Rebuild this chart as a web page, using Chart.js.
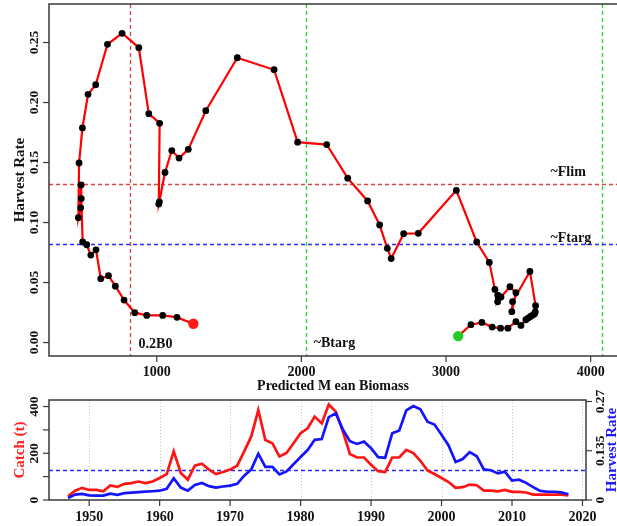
<!DOCTYPE html>
<html>
<head>
<meta charset="utf-8">
<title>Harvest rate vs biomass</title>
<script src="https://cdn.jsdelivr.net/npm/chart.js@4.4.1/dist/chart.umd.min.js"></script>
<style>
  html, body { margin: 0; padding: 0; background: #fff; overflow: hidden; }
  #wrap { position: relative; width: 617px; height: 526px; overflow: hidden; }
  #phase { position: absolute; left: 0; top: 0; width: 617px; height: 395px; }
  #series { position: absolute; left: 0; top: 380px; width: 617px; height: 146px; }
</style>
</head>
<body>
<div id="wrap">
  <canvas id="phase" width="617" height="395"></canvas>
  <canvas id="series" width="617" height="146"></canvas>
</div>
<script>
// ===============================
// Data
// ===============================
const years = [1947, 1948, 1949, 1950, 1951, 1952, 1953, 1954, 1955, 1956,
  1957, 1958, 1959, 1960, 1961, 1962, 1963, 1964, 1965, 1966,
  1967, 1968, 1969, 1970, 1971, 1972, 1973, 1974, 1975, 1976,
  1977, 1978, 1979, 1980, 1981, 1982, 1983, 1984, 1985, 1986,
  1987, 1988, 1989, 1990, 1991, 1992, 1993, 1994, 1995, 1996,
  1997, 1998, 1999, 2000, 2001, 2002, 2003, 2004, 2005, 2006,
  2007, 2008, 2009, 2010, 2011, 2012, 2013, 2014, 2015, 2016,
  2017, 2018];

const biomass = [3084, 3172, 3248, 3319, 3377, 3428, 3483, 3518, 3552, 3568,
  3584, 3600, 3612, 3617, 3619, 3580, 3460, 3455, 3483, 3442,
  3380, 3357, 3363, 3357, 3338, 3299, 3212, 3071, 2808, 2707,
  2621, 2594, 2541, 2458, 2320, 2175, 1974, 1811, 1557, 1339,
  1218, 1154, 1104, 1057, 1018, 1014, 1020, 945, 876, 760,
  659, 578, 525, 486, 463, 458, 474, 477, 478, 488,
  516, 544, 580, 613, 666, 714, 774, 848, 931, 1041,
  1140, 1253];

const harvestRate = [0.0054, 0.0149, 0.0168, 0.0129, 0.0120, 0.0120, 0.0174, 0.0143, 0.0190, 0.0204,
  0.0218, 0.0229, 0.0240, 0.0255, 0.0307, 0.0593, 0.0340, 0.0257, 0.0415, 0.0465,
  0.0380, 0.0340, 0.0370, 0.0396, 0.0443, 0.0668, 0.0838, 0.1268, 0.0910, 0.0907,
  0.0700, 0.0785, 0.0980, 0.1180, 0.1370, 0.1650, 0.1670, 0.2273, 0.2373, 0.1932,
  0.1610, 0.1537, 0.1600, 0.1418, 0.1173, 0.1154, 0.1827, 0.1907, 0.2457, 0.2577,
  0.2485, 0.2148, 0.2068, 0.1788, 0.1496, 0.1040, 0.1123, 0.1313, 0.1200, 0.0838,
  0.0815, 0.0729, 0.0773, 0.0532, 0.0557, 0.0470, 0.0354, 0.0249, 0.0226, 0.0226,
  0.0210, 0.0157];

const catchT = [16, 40, 52, 43, 43, 37, 62, 56, 69, 72,
  79, 72, 79, 94, 111, 208, 116, 87, 147, 155,
  130, 111, 120, 130, 147, 208, 272, 385, 257, 243,
  186, 201, 243, 286, 307, 357, 328, 409, 378, 293,
  197, 182, 182, 151, 123, 120, 182, 182, 215, 201,
  168, 126, 111, 94, 77, 52, 55, 66, 63, 40,
  40, 37, 43, 35, 35, 32, 23, 23, 23, 23,
  23, 20];

// reference points
const refBiomass = [812, 2030, 4075];          // 0.2B0, ~Btarg, B0
const refRate = [0.1318, 0.082];               // ~Flim, ~Ftarg

// tick labels
const biomassTicks = [1000, 2000, 3000, 4000];
const rateTicks = [0, 0.05, 0.10, 0.15, 0.20, 0.25];
const rateTickLabels = ["0.00", "0.05", "0.10", "0.15", "0.20", "0.25"];
const yearTicks = [1950, 1960, 1970, 1980, 1990, 2000, 2010, 2020];
const catchTicks = [0, 100, 200, 300, 400];
const catchTickLabels = ["0", "", "200", "", "400"];
const rateTicks2 = [0, 0.135, 0.27];
const rateTickLabels2 = ["0", "0.135", "0.27"];

// ===============================
// Helpers
// ===============================
const serif = '"Liberation Serif", "Times New Roman", serif';
const font = size => "bold " + size + "px " + serif;
const axisColor = "#3a3a3a";

function vText(ctx, text, x, y, color) {
  ctx.save();
  ctx.translate(x, y);
  ctx.rotate(-Math.PI / 2);
  ctx.fillStyle = color;
  ctx.textAlign = "center";
  ctx.textBaseline = "middle";
  ctx.fillText(text, 0, 0);
  ctx.restore();
}

function tickLine(ctx, x1, y1, x2, y2) {
  ctx.beginPath();
  ctx.moveTo(x1, y1);
  ctx.lineTo(x2, y2);
  ctx.stroke();
}

// ===============================
// Top: harvest rate vs biomass
// ===============================
const last = biomass.length - 1;

const phaseAxes = {
  id: "phaseAxes",
  beforeDatasetsDraw(chart) {
    const { ctx, chartArea: a, scales: { x, y } } = chart;
    ctx.save();
    ctx.lineWidth = 1.3;
    ctx.setLineDash([4, 3]);
    const vCols = ["#cc4a4a", "#2ecc2e", "#2ecc2e"];
    refBiomass.forEach((b, i) => {
      ctx.strokeStyle = vCols[i];
      const px = Math.round(x.getPixelForValue(b)) + 0.5;
      tickLine(ctx, px, a.top, px, a.bottom);
    });
    const hCols = ["#dd4545", "#2a2aff"];
    refRate.forEach((r, i) => {
      ctx.strokeStyle = hCols[i];
      const py = Math.round(y.getPixelForValue(r)) + 0.5;
      tickLine(ctx, a.left, py, a.right, py);
    });
    ctx.restore();
  },
  afterDraw(chart) {
    const { ctx, chartArea: a, scales: { x, y } } = chart;
    ctx.save();
    ctx.strokeStyle = axisColor;
    ctx.lineWidth = 1.5;
    // box: right side falls outside the picture
    ctx.beginPath();
    ctx.moveTo(a.right + 5, a.top);
    ctx.lineTo(a.left, a.top);
    ctx.lineTo(a.left, a.bottom);
    ctx.lineTo(a.right + 5, a.bottom);
    ctx.stroke();

    ctx.lineWidth = 1.2;
    ctx.font = font(14);
    ctx.fillStyle = "#111";
    ctx.textAlign = "center";
    ctx.textBaseline = "middle";
    biomassTicks.forEach(v => {
      const px = x.getPixelForValue(v);
      tickLine(ctx, px, a.bottom, px, a.bottom + 6);
      ctx.fillText(String(v), px, a.bottom + 16);
    });
    ctx.font = font(13.5);
    rateTicks.forEach((v, i) => {
      const py = y.getPixelForValue(v);
      tickLine(ctx, a.left - 6, py, a.left, py);
      vText(ctx, rateTickLabels[i], a.left - 14, py, "#111");
    });

    ctx.font = font(14);
    ctx.fillText("Predicted M ean Biomass", (a.left + a.right) / 2, a.bottom + 30);
    ctx.font = font(15);
    vText(ctx, "Harvest Rate", 20, (a.top + a.bottom) / 2, "#111");

    ctx.font = font(14);
    ctx.textAlign = "left";
    const y0 = y.getPixelForValue(0);
    ctx.fillText("0.2B0", x.getPixelForValue(refBiomass[0]) + 9, y0 + 1.5);
    ctx.fillText("~Btarg", x.getPixelForValue(refBiomass[1]) + 8, y0 + 0.5);
    const xLab = x.getPixelForValue(refBiomass[2]) - 51;
    ctx.fillText("~Flim", xLab, y.getPixelForValue(refRate[0]) - 12);
    ctx.fillText("~Ftarg", xLab, y.getPixelForValue(refRate[1]) - 6);
    ctx.restore();
  }
};

new Chart(document.getElementById("phase"), {
  type: "scatter",
  data: {
    datasets: [{
      data: biomass.map((b, i) => ({ x: b, y: harvestRate[i] })),
      showLine: true,
      borderColor: "#ff0000",
      borderWidth: 2.2,
      tension: 0,
      pointRadius: c => (c.dataIndex === 0 || c.dataIndex === last) ? 5.2 : 3.4,
      pointBackgroundColor: c => c.dataIndex === 0 ? "#22cc22" : (c.dataIndex === last ? "#ff1a1a" : "#000"),
      pointBorderWidth: 0
    }]
  },
  options: {
    responsive: false,
    animation: false,
    events: [],
    layout: { autoPadding: false, padding: { left: 49, top: 4, right: 0, bottom: 39 } },
    plugins: { legend: { display: false }, tooltip: { enabled: false } },
    scales: {
      x: { type: "linear", display: false, min: 255, max: 4182 },
      y: { type: "linear", display: false, min: -0.0112, max: 0.2821 }
    }
  },
  plugins: [phaseAxes]
});

// ===============================
// Bottom: catch and harvest rate by year
// ===============================
const seriesAxes = {
  id: "seriesAxes",
  beforeDatasetsDraw(chart) {
    const { ctx, chartArea: a, scales: { x, yRate } } = chart;
    ctx.save();
    ctx.strokeStyle = "#c8c8c8";
    ctx.lineWidth = 1;
    ctx.setLineDash([1, 2]);
    yearTicks.forEach(v => {
      const px = Math.round(x.getPixelForValue(v)) + 0.5;
      tickLine(ctx, px, a.top, px, a.bottom);
    });
    ctx.strokeStyle = "#2a2aff";
    ctx.lineWidth = 1.3;
    ctx.setLineDash([4, 3]);
    const py = Math.round(yRate.getPixelForValue(refRate[1])) + 0.5;
    tickLine(ctx, a.left, py, a.right, py);
    ctx.restore();
  },
  afterDraw(chart) {
    const { ctx, chartArea: a, scales: { x, yCatch, yRate } } = chart;
    ctx.save();
    ctx.strokeStyle = axisColor;
    ctx.lineWidth = 1.5;
    ctx.strokeRect(a.left, a.top, a.right - a.left, a.bottom - a.top);

    ctx.lineWidth = 1.2;
    ctx.font = font(14);
    ctx.fillStyle = "#111";
    ctx.textAlign = "center";
    ctx.textBaseline = "middle";
    yearTicks.forEach(v => {
      const px = x.getPixelForValue(v);
      tickLine(ctx, px, a.bottom, px, a.bottom + 6);
      ctx.fillText(String(v), px, a.bottom + 17.5);
    });
    ctx.font = font(13.5);
    catchTicks.forEach((v, i) => {
      const py = yCatch.getPixelForValue(v);
      tickLine(ctx, a.left - 6, py, a.left, py);
      if (catchTickLabels[i]) vText(ctx, catchTickLabels[i], a.left - 14, py, "#111");
    });
    rateTicks2.forEach((v, i) => {
      const py = yRate.getPixelForValue(v);
      tickLine(ctx, a.right, py, a.right + 6, py);
      vText(ctx, rateTickLabels2[i], a.right + 15, py, "#111");
    });
    ctx.font = font(15);
    vText(ctx, "Catch (t)", 20, (a.top + a.bottom) / 2, "#ff2020");
    vText(ctx, "Harvest Rate", a.right + 26.5, (a.top + a.bottom) / 2, "#1a1aff");
    ctx.restore();
  }
};

new Chart(document.getElementById("series"), {
  type: "line",
  data: {
    datasets: [
      {
        label: "Harvest Rate",
        data: years.map((yr, i) => ({ x: yr, y: harvestRate[i] })),
        yAxisID: "yRate",
        borderColor: "#1414ff",
        borderWidth: 2.7,
        pointRadius: 0,
        tension: 0,
        order: 0
      },
      {
        label: "Catch (t)",
        data: years.map((yr, i) => ({ x: yr, y: catchT[i] })),
        yAxisID: "yCatch",
        borderColor: "#ff1414",
        borderWidth: 2.7,
        pointRadius: 0,
        tension: 0,
        order: 1
      }
    ]
  },
  options: {
    responsive: false,
    animation: false,
    events: [],
    layout: { autoPadding: false, padding: { left: 49, top: 20, right: 31, bottom: 26 } },
    plugins: { legend: { display: false }, tooltip: { enabled: false } },
    scales: {
      x: { type: "linear", display: false, min: 1944.3, max: 2020.5 },
      yCatch: { type: "linear", display: false, position: "left", min: 0, max: 428 },
      yRate: { type: "linear", display: false, position: "right", min: 0, max: 0.2741 }
    }
  },
  plugins: [seriesAxes]
});
</script>
</body>
</html>
